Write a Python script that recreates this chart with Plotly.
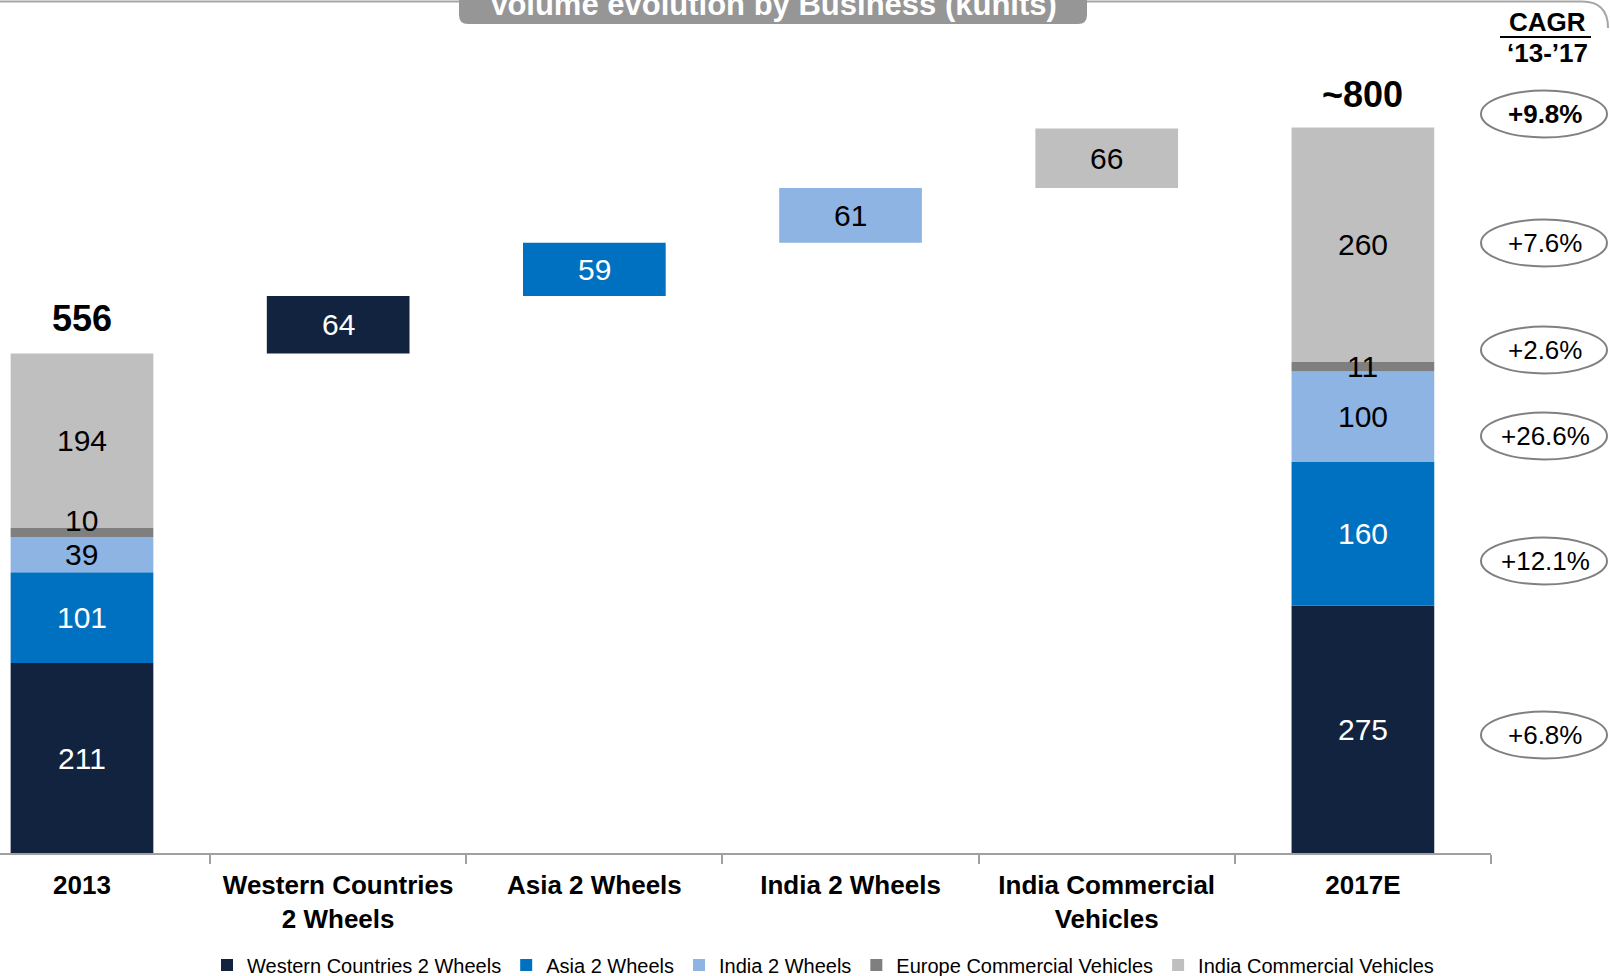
import plotly.graph_objects as go

# ---- data -------------------------------------------------------------
categories = ["2013", "Western Countries<br>2 Wheels", "Asia 2 Wheels",
              "India 2 Wheels", "India Commercial<br>Vehicles", "2017E"]
segments = ["Western Countries 2 Wheels", "Asia 2 Wheels", "India 2 Wheels",
            "Europe Commercial Vehicles", "India Commercial Vehicles"]
vol_2013 = [211, 101, 39, 10, 194]
vol_2017 = [275, 160, 100, 11, 260]
# growth bridge per segment (None = no bridge bar); bridge column index
bridge_vals = [64, 59, 61, None, 66]
bridge_cols = [1, 2, 3, None, 4]
total_labels = ["556", "~800"]
cagr_labels = ["+6.8%", "+12.1%", "+26.6%", "+2.6%", "+7.6%"]
cagr_total = "+9.8%"

colors = ["#12233F", "#0070C0", "#8EB4E3", "#7F7F7F", "#BFBFBF"]
text_colors = ["white", "white", "black", "black", "black"]

# ---- layout geometry (pixels) ----------------------------------------
W, H = 1610, 976
PL, PR, PT, PB = 0, 1491, 60, 853
PX_PER_UNIT = 0.9
Y_MAX = (PB - PT) / PX_PER_UNIT
X_START = -0.32
FONT = "Liberation Sans, Arial, sans-serif"


def pxx(px):
    return (px - PL) / (PR - PL)


def pxy(py):
    return (PB - py) / (PB - PT)


def label(x, y, text, size, color="black", xref="paper", yref="paper", yshift=0):
    return dict(x=x, y=y, xref=xref, yref=yref, text=text, showarrow=False,
                xanchor="center", yanchor="middle", yshift=yshift,
                font=dict(family=FONT, size=size, color=color))


fig = go.Figure()
annotations = []

last_col = len(categories) - 1
run_total = sum(vol_2013)
base13 = 0
base17 = 0
for i, name in enumerate(segments):
    xs, ys, bases = [categories[0]], [vol_2013[i]], [base13]
    labels = [(0, base13 + vol_2013[i] / 2, vol_2013[i])]
    if bridge_vals[i] is not None:
        xs.append(categories[bridge_cols[i]])
        ys.append(bridge_vals[i])
        bases.append(run_total)
        labels.append((bridge_cols[i], run_total + bridge_vals[i] / 2, bridge_vals[i]))
        run_total += bridge_vals[i]
    xs.append(categories[last_col])
    ys.append(vol_2017[i])
    bases.append(base17)
    labels.append((last_col, base17 + vol_2017[i] / 2, vol_2017[i]))
    base13 += vol_2013[i]
    base17 += vol_2017[i]

    fig.add_trace(go.Bar(
        x=xs, y=ys, base=bases, name=name, width=0.557,
        marker=dict(color=colors[i], line=dict(width=0)),
        hoverinfo="skip",
    ))
    for col, yc, v in labels:
        # lift the label of the thin 2013 slice so it sits on the slice above
        shift = 12 if (col == 0 and v < 20) else 0
        annotations.append(label(col, yc, str(v), 30, text_colors[i],
                                 xref="x", yref="y", yshift=shift))

# totals above the first and last columns
annotations.append(label(0, sum(vol_2013), f"<b>{total_labels[0]}</b>", 36,
                         xref="x", yref="y", yshift=35))
annotations.append(label(last_col, sum(vol_2017), f"<b>{total_labels[1]}</b>", 36,
                         xref="x", yref="y", yshift=33))

shapes = []

# CAGR column: header, divider and ellipses
annotations.append(label(pxx(1548), pxy(22), "<b>CAGR</b>", 26))
annotations.append(label(pxx(1548), pxy(53), "<b>‘13-’17</b>", 26))
shapes.append(dict(type="line", xref="paper", yref="paper",
                   x0=pxx(1500), x1=pxx(1591), y0=pxy(37), y1=pxy(37),
                   line=dict(color="black", width=2)))

CX = 1545
cagr_rows = [cagr_total] + cagr_labels[::-1]
cagr_bold = [True, False, False, False, False, False]
cagr_py = [114, 243, 350, 436, 561, 735]
for txt, bold, py in zip(cagr_rows, cagr_bold, cagr_py):
    shapes.append(dict(type="circle", xref="paper", yref="paper",
                       x0=pxx(1481), x1=pxx(1607), y0=pxy(py - 23.5), y1=pxy(py + 23.5),
                       line=dict(color="#808080", width=2), fillcolor="rgba(0,0,0,0)"))
    annotations.append(label(pxx(CX), pxy(py), f"<b>{txt}</b>" if bold else txt, 26))

# frame line along the top with a rounded right corner
frame = (f"M {pxx(0)},{pxy(1.5)} L {pxx(1582)},{pxy(1.5)} "
         f"Q {pxx(1608)},{pxy(1.5)} {pxx(1608)},{pxy(28)}")
shapes.append(dict(type="path", xref="paper", yref="paper", path=frame,
                   line=dict(color="#A6A6A6", width=2)))

# title tab with rounded bottom corners
r = 9
tab = (f"M {pxx(459)},{pxy(-5)} L {pxx(459)},{pxy(24 - r)} "
       f"Q {pxx(459)},{pxy(24)} {pxx(459 + r)},{pxy(24)} "
       f"L {pxx(1087 - r)},{pxy(24)} Q {pxx(1087)},{pxy(24)} {pxx(1087)},{pxy(24 - r)} "
       f"L {pxx(1087)},{pxy(-5)} Z")
shapes.append(dict(type="path", xref="paper", yref="paper", path=tab,
                   fillcolor="#969696", line=dict(width=0)))
annotations.append(label(pxx(773), pxy(4), "<b>Volume evolution by Business (kunits)</b>",
                         31, "white"))

fig.update_layout(
    width=W, height=H,
    margin=dict(l=PL, r=W - PR, t=PT, b=H - PB, pad=0, autoexpand=False),
    barmode="overlay",
    plot_bgcolor="white", paper_bgcolor="white",
    font=dict(family=FONT, color="black"),
    showlegend=True,
    legend=dict(orientation="h", x=pxx(823), xanchor="center", y=pxy(965), yanchor="middle",
                font=dict(family=FONT, size=20, color="black"), itemwidth=30,
                traceorder="normal", bgcolor="rgba(0,0,0,0)"),
    annotations=annotations,
    shapes=shapes,
    xaxis=dict(type="category", categoryorder="array", categoryarray=categories,
               range=[X_START, len(categories) - 0.5],
               showline=True, linecolor="#A0A0A0", linewidth=2,
               ticks="outside", tickson="boundaries", ticklen=9,
               tickcolor="#A0A0A0", tickwidth=1.5,
               tickfont=dict(family=FONT, size=26, color="black"),
               tickprefix="<b>", ticksuffix="</b>", ticklabelstandoff=8,
               showgrid=False, zeroline=False, fixedrange=True),
    yaxis=dict(range=[0, Y_MAX], visible=False, showgrid=False, zeroline=False,
               fixedrange=True),
)

fig.write_html("out.html")
